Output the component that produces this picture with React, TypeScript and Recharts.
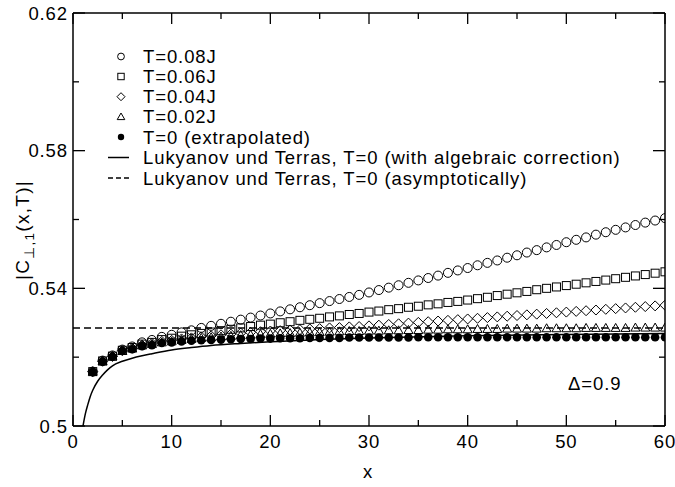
import React from "react";
import { ComposedChart, Line, Scatter, XAxis, YAxis } from "recharts";

const FONT = '"Liberation Sans", Arial, Helvetica, sans-serif';

// chain positions
const X_POS = [
  2, 3, 4, 5, 6, 7, 8, 9, 10, 11,
  12, 13, 14, 15, 16, 17, 18, 19, 20, 21,
  22, 23, 24, 25, 26, 27, 28, 29, 30, 31,
  32, 33, 34, 35, 36, 37, 38, 39, 40, 41,
  42, 43, 44, 45, 46, 47, 48, 49, 50, 51,
  52, 53, 54, 55, 56, 57, 58, 59, 60,
];

const T_008 = [
  0.5158, 0.519, 0.5205, 0.5222, 0.5231, 0.5243, 0.525, 0.5259, 0.5265, 0.5272,
  0.5278, 0.5285, 0.5291, 0.5297, 0.5303, 0.5309, 0.5315, 0.5321, 0.5327, 0.5333,
  0.5339, 0.5345, 0.5351, 0.5357, 0.5363, 0.5369, 0.5375, 0.5381, 0.5388, 0.5395,
  0.5402, 0.5409, 0.5416, 0.5423, 0.543, 0.5437, 0.5445, 0.5452, 0.5459, 0.5467,
  0.5474, 0.5481, 0.5489, 0.5496, 0.5504, 0.5511, 0.5519, 0.5526, 0.5534, 0.5541,
  0.5548, 0.5556, 0.5563, 0.557, 0.5577, 0.5584, 0.5591, 0.5597, 0.5604,
];

const T_006 = [
  0.5158, 0.5189, 0.5203, 0.522, 0.5228, 0.5238, 0.5243, 0.5251, 0.5255, 0.5261,
  0.5265, 0.5269, 0.5273, 0.5277, 0.5281, 0.5285, 0.5289, 0.5293, 0.5296, 0.53,
  0.5303, 0.5307, 0.531, 0.5313, 0.5317, 0.532, 0.5324, 0.5327, 0.5331, 0.5334,
  0.5338, 0.5341, 0.5345, 0.5348, 0.5352, 0.5355, 0.5359, 0.5362, 0.5366, 0.537,
  0.5374, 0.5379, 0.5383, 0.5387, 0.5391, 0.5396, 0.54, 0.5404, 0.5408, 0.5412,
  0.5416, 0.542, 0.5424, 0.5428, 0.5432, 0.5436, 0.544, 0.5444, 0.5448,
];

const T_004 = [
  0.5158, 0.5188, 0.5202, 0.5219, 0.5226, 0.5235, 0.524, 0.5246, 0.5249, 0.5253,
  0.5256, 0.5259, 0.5262, 0.5265, 0.5267, 0.527, 0.5272, 0.5274, 0.5276, 0.5277,
  0.5279, 0.528, 0.5282, 0.5283, 0.5285, 0.5286, 0.5288, 0.5289, 0.5291, 0.5293,
  0.5295, 0.5297, 0.5299, 0.5301, 0.5303, 0.5305, 0.5307, 0.5309, 0.5311, 0.5313,
  0.5315, 0.5317, 0.5319, 0.5321, 0.5323, 0.5325, 0.5327, 0.5329, 0.5331, 0.5333,
  0.5335, 0.5337, 0.5339, 0.5341, 0.5343, 0.5345, 0.5347, 0.5349, 0.5351,
];

const T_002 = [
  0.5158, 0.5188, 0.5202, 0.5218, 0.5225, 0.5234, 0.5238, 0.5243, 0.5246, 0.525,
  0.5253, 0.5256, 0.5258, 0.526, 0.5262, 0.5264, 0.5265, 0.5267, 0.5268, 0.5269,
  0.527, 0.5271, 0.5272, 0.5273, 0.5274, 0.5275, 0.5276, 0.5276, 0.5277, 0.5277,
  0.5278, 0.5278, 0.5279, 0.5279, 0.528, 0.528, 0.5281, 0.5281, 0.5281, 0.5282,
  0.5282, 0.5282, 0.5283, 0.5283, 0.5283, 0.5283, 0.5284, 0.5284, 0.5284, 0.5284,
  0.5285, 0.5285, 0.5285, 0.5285, 0.5285, 0.5286, 0.5286, 0.5286, 0.5286,
];

// extrapolated T=0
const T_000 = [
  0.5157, 0.5187, 0.5201, 0.5218, 0.5223, 0.5232, 0.5235, 0.5241, 0.5243, 0.5246,
  0.5248, 0.5249, 0.525, 0.5251, 0.5252, 0.5253, 0.5253, 0.5254, 0.5254, 0.5255,
  0.5255, 0.5255, 0.5256, 0.5256, 0.5256, 0.5256, 0.5257, 0.5257, 0.5257, 0.5257,
  0.5257, 0.5257, 0.5257, 0.5258, 0.5258, 0.5258, 0.5258, 0.5258, 0.5258, 0.5258,
  0.5258, 0.5258, 0.5258, 0.5258, 0.5258, 0.5258, 0.5258, 0.5258, 0.5258, 0.5258,
  0.5258, 0.5258, 0.5258, 0.5258, 0.5258, 0.5258, 0.5258, 0.5258, 0.5258,
];

// Lukyanov/Terras with algebraic correction
const LT_X = [1, 1.25, 1.5, 1.75, 2, 2.5, 3, 3.5, 4, 5, 6, 7, 8, 10, 12, 14, 17, 20, 25, 30, 40, 50, 60];
const LT_Y = [
  0.4998, 0.5035, 0.5062, 0.5086, 0.5104, 0.513, 0.5148, 0.5163, 0.5175, 0.5188, 0.5197,
  0.5204, 0.521, 0.5221, 0.5228, 0.5234, 0.524, 0.5245, 0.5251, 0.5256, 0.5262, 0.5266, 0.5269,
];

// asymptotic value
const ASYM_X = [0, 60];
const ASYM_Y = [0.5285, 0.5285];

const X_TICKS = [0, 5, 10, 15, 20, 25, 30, 35, 40, 45, 50, 55, 60];
const Y_TICKS = [0.5, 0.52, 0.54, 0.56, 0.58, 0.6, 0.62];

const toPoints = (xs: number[], ys: number[]) => xs.map((x, i) => ({ x, y: ys[i] }));

const isMajorY = (v: number) => Math.round(v * 100) % 4 === 2;
const fmtY = (v: number) => (v === 0.5 ? "0.5" : v.toFixed(2));

const textStyle = { fontFamily: FONT, fontSize: 18.5, letterSpacing: 0.9, fill: "#000" };

function BottomTick(props: any) {
  const { x, y, payload } = props;
  const major = payload.value % 10 === 0;
  return (
    <g>
      <line x1={x} x2={x} y1={y} y2={y - (major ? 11 : 6)} stroke="#000" strokeWidth={1.3} />
      {major && (
        <text x={x} y={y + 21.5} textAnchor="middle" {...textStyle}>
          {payload.value}
        </text>
      )}
    </g>
  );
}

function TopTick(props: any) {
  const { x, y, payload } = props;
  const major = payload.value % 10 === 0;
  return <line x1={x} x2={x} y1={y} y2={y + (major ? 11 : 6)} stroke="#000" strokeWidth={1.3} />;
}

function LeftTick(props: any) {
  const { x, y, payload } = props;
  const major = isMajorY(payload.value);
  return (
    <g>
      <line x1={x} x2={x + (major ? 12 : 6)} y1={y} y2={y} stroke="#000" strokeWidth={1.3} />
      {major && (
        <text x={x - 5} y={y + 6.5} textAnchor="end" {...textStyle}>
          {fmtY(payload.value)}
        </text>
      )}
    </g>
  );
}

function RightTick(props: any) {
  const { x, y, payload } = props;
  const major = isMajorY(payload.value);
  return <line x1={x} x2={x - (major ? 12 : 6)} y1={y} y2={y} stroke="#000" strokeWidth={1.3} />;
}

const openCircle = (p: any) => <circle cx={p.cx} cy={p.cy} r={4.5} fill="none" stroke="#000" strokeWidth={1} />;
const openSquare = (p: any) => (
  <rect x={p.cx - 4} y={p.cy - 4} width={8} height={8} fill="none" stroke="#000" strokeWidth={1} />
);
const openDiamond = (p: any) => (
  <path d={`M${p.cx},${p.cy - 5}L${p.cx + 5},${p.cy}L${p.cx},${p.cy + 5}L${p.cx - 5},${p.cy}Z`} fill="none" stroke="#000" strokeWidth={1} />
);
const openTriangle = (p: any) => (
  <path d={`M${p.cx},${p.cy - 4.5}L${p.cx + 4.5},${p.cy + 3.5}L${p.cx - 4.5},${p.cy + 3.5}Z`} fill="none" stroke="#000" strokeWidth={1} />
);
const filledCircle = (p: any) => <circle cx={p.cx} cy={p.cy} r={4.3} fill="#000" />;

const LEGEND_ROWS = [
  { label: "T=0.08J", kind: "circle" },
  { label: "T=0.06J", kind: "square" },
  { label: "T=0.04J", kind: "diamond" },
  { label: "T=0.02J", kind: "triangle" },
  { label: "T=0 (extrapolated)", kind: "dot" },
  { label: "Lukyanov und Terras, T=0 (with algebraic correction)", kind: "solid" },
  { label: "Lukyanov und Terras, T=0 (asymptotically)", kind: "dashed" },
];

function LegendSymbol({ kind, cx, cy }: { kind: string; cx: number; cy: number }) {
  switch (kind) {
    case "circle":
      return <circle cx={cx} cy={cy} r={3.4} fill="none" stroke="#000" />;
    case "square":
      return <rect x={cx - 3.2} y={cy - 3.2} width={6.4} height={6.4} fill="none" stroke="#000" />;
    case "diamond":
      return <path d={`M${cx},${cy - 4}L${cx + 4},${cy}L${cx},${cy + 4}L${cx - 4},${cy}Z`} fill="none" stroke="#000" />;
    case "triangle":
      return <path d={`M${cx},${cy - 3.8}L${cx + 3.8},${cy + 2.8}L${cx - 3.8},${cy + 2.8}Z`} fill="none" stroke="#000" />;
    case "dot":
      return <circle cx={cx} cy={cy} r={3.2} fill="#000" />;
    case "solid":
      return <line x1={cx - 13} x2={cx + 8} y1={cy} y2={cy} stroke="#000" strokeWidth={1.5} />;
    default:
      return <line x1={cx - 13} x2={cx + 8} y1={cy} y2={cy} stroke="#000" strokeWidth={1.5} strokeDasharray="5 3" />;
  }
}

export default function App() {
  const rowY = [56.5, 76.5, 96.7, 116.8, 137, 157.5, 178];
  return (
    <div style={{ position: "absolute", left: 0, top: 0, width: 675, height: 487, background: "#fff" }}>
      <ComposedChart width={675} height={487} margin={{ top: 0, right: 0, bottom: 0, left: 0 }}>
        <XAxis
          xAxisId={0}
          dataKey="x"
          type="number"
          domain={[0, 60]}
          ticks={X_TICKS}
          interval={0}
          height={61}
          tickSize={0}
          tickMargin={0}
          tickLine={false}
          tick={<BottomTick />}
          axisLine={{ stroke: "#000", strokeWidth: 1.5 }}
          allowDataOverflow
        />
        <XAxis
          xAxisId="top"
          orientation="top"
          dataKey="x"
          type="number"
          domain={[0, 60]}
          ticks={X_TICKS}
          interval={0}
          height={13}
          tickSize={0}
          tickMargin={0}
          tickLine={false}
          tick={<TopTick />}
          axisLine={{ stroke: "#000", strokeWidth: 1.5 }}
          allowDataOverflow
        />
        <YAxis
          yAxisId={0}
          type="number"
          domain={[0.5, 0.62]}
          ticks={Y_TICKS}
          interval={0}
          width={73}
          tickSize={0}
          tickMargin={0}
          tickLine={false}
          tick={<LeftTick />}
          axisLine={{ stroke: "#000", strokeWidth: 1.5 }}
          allowDataOverflow
        />
        <YAxis
          yAxisId="right"
          orientation="right"
          type="number"
          domain={[0.5, 0.62]}
          ticks={Y_TICKS}
          interval={0}
          width={10}
          tickSize={0}
          tickMargin={0}
          tickLine={false}
          tick={<RightTick />}
          axisLine={{ stroke: "#000", strokeWidth: 1.5 }}
          allowDataOverflow
        />
        <Line
          data={toPoints(ASYM_X, ASYM_Y)}
          dataKey="y"
          type="linear"
          stroke="#000"
          strokeWidth={1.5}
          strokeDasharray="7 4"
          dot={false}
          activeDot={false}
          isAnimationActive={false}
        />
        <Line
          data={toPoints(LT_X, LT_Y)}
          dataKey="y"
          type="monotone"
          stroke="#000"
          strokeWidth={1.5}
          dot={false}
          activeDot={false}
          isAnimationActive={false}
        />
        <Scatter data={toPoints(X_POS, T_008)} dataKey="y" shape={openCircle} isAnimationActive={false} />
        <Scatter data={toPoints(X_POS, T_006)} dataKey="y" shape={openSquare} isAnimationActive={false} />
        <Scatter data={toPoints(X_POS, T_004)} dataKey="y" shape={openDiamond} isAnimationActive={false} />
        <Scatter data={toPoints(X_POS, T_002)} dataKey="y" shape={openTriangle} isAnimationActive={false} />
        <Scatter data={toPoints(X_POS, T_000)} dataKey="y" shape={filledCircle} isAnimationActive={false} />
      </ComposedChart>
      <svg width={675} height={487} style={{ position: "absolute", left: 0, top: 0, pointerEvents: "none" }}>
        {LEGEND_ROWS.map((row, i) => (
          <g key={row.label}>
            <LegendSymbol kind={row.kind} cx={121} cy={rowY[i]} />
            <text x={143} y={rowY[i] + 6.5} {...textStyle}>
              {row.label}
            </text>
          </g>
        ))}
        <text x={568} y={389.5} {...textStyle}>
          Δ=0.9
        </text>
        <text x={368} y={478} textAnchor="middle" {...textStyle}>
          x
        </text>
        <text
          x={28.5}
          y={230}
          textAnchor="middle"
          transform="rotate(-90 28.5 230)"
          {...textStyle}
          fontSize={19}
          letterSpacing={1.3}
        >
          |C
          <tspan fontSize={13.5} dy={5}>
            ⊥,1
          </tspan>
          <tspan dy={-5}>(x,T)|</tspan>
        </text>
      </svg>
    </div>
  );
}
